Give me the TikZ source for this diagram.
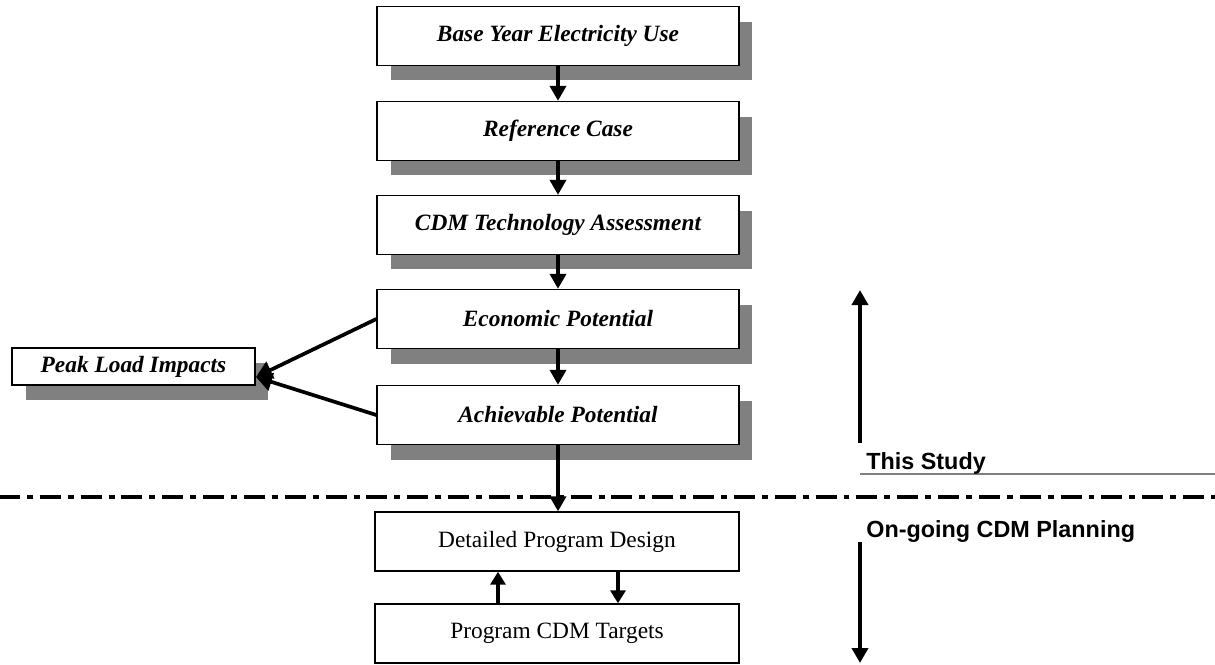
\documentclass[tikz,border=0pt]{standalone}
\usepackage{fontspec}
\setmainfont{Liberation Serif}
\setsansfont{Liberation Sans}
\usetikzlibrary{calc,shadows,arrows.meta}
\tikzset{
  stepshadow/.style={drop shadow={shadow xshift=0.27cm,shadow yshift=-0.3cm,fill=black!50,opacity=1}},
  mainbox/.style={draw,fill=white,line width=0.8pt,minimum width=7.24cm,minimum height=1.18cm,
    font=\fontsize{13.3}{16}\selectfont\bfseries\itshape,stepshadow},
  lowbox/.style={draw,fill=white,line width=0.8pt,minimum width=7.28cm,minimum height=1.18cm,
    font=\fontsize{13.3}{16}\selectfont},
  flow/.style={line width=2.1pt,-{Triangle[length=0.3cm,width=0.32cm]}},
  sidelabel/.style={anchor=base west,inner sep=0pt,font=\fontsize{13.3}{16}\selectfont\sffamily\bfseries}
}
\begin{document}
\begin{tikzpicture}[x=0.02cm,y=-0.02cm]
      \useasboundingbox (0,0) rectangle (1215,664);
      \node[mainbox] (base) at (558,36) {Base Year Electricity Use};
      \node[mainbox] (refc) at (558,131) {Reference Case};
      \node[mainbox] (tech) at (558,225) {CDM Technology Assessment};
      \node[mainbox] (econ) at (558,319) {Economic Potential};
      \node[mainbox] (ach) at (558,415) {Achievable Potential};
      \node[mainbox,minimum width=4.86cm,minimum height=0.74cm] (peak) at (133.5,366.5) {Peak Load Impacts};
      \node[lowbox] (design) at (557,541.5) {Detailed Program Design};
      \node[lowbox] (targets) at (557,633.5) {Program CDM Targets};
      \coordinate (pin) at (256,377);
      \coordinate (st1) at (860,443);
      \coordinate (st2) at (860,290);
      \coordinate (og1) at (860,542);
      \coordinate (og2) at (860,663);
      \coordinate (gl1) at (860,474);
      \coordinate (gl2) at (1215,474);
      \coordinate (dl1) at (-1,497);
      \coordinate (dl2) at (1215,497);
      \draw[flow] (base)--(refc);
      \draw[flow] (refc)--(tech);
      \draw[flow] (tech)--(econ);
      \draw[flow] (econ)--(ach);
      \draw[flow,-{Triangle[length=0.32cm,width=0.36cm]}] (econ.west)--(pin);
      \draw[flow,-{Triangle[length=0.32cm,width=0.36cm]}] (ach.west)--(pin);
      \draw[line width=2.8pt,dash pattern=on 11.9pt off 3.97pt on 3.4pt off 3.97pt] (dl1)--(dl2);
      \draw[flow] (ach.south)--(ach.south|-design.north);
      \draw[flow,-{Triangle[length=0.26cm,width=0.3cm]}] (targets.north-|498,0)--(design.south-|498,0);
      \draw[flow,-{Triangle[length=0.26cm,width=0.3cm]}] (design.south-|618,0)--(targets.north-|618,0);
      \draw[flow] (st1)--(st2);
      \draw[flow] (og1)--(og2);
      \draw[black!50,line width=0.6pt] (gl1)--(gl2);
      \node[sidelabel] (study) at (866,469) {This Study};
      \node[sidelabel] (ongoing) at (866,537) {On-going CDM Planning};
    \end{tikzpicture}
\end{document}
